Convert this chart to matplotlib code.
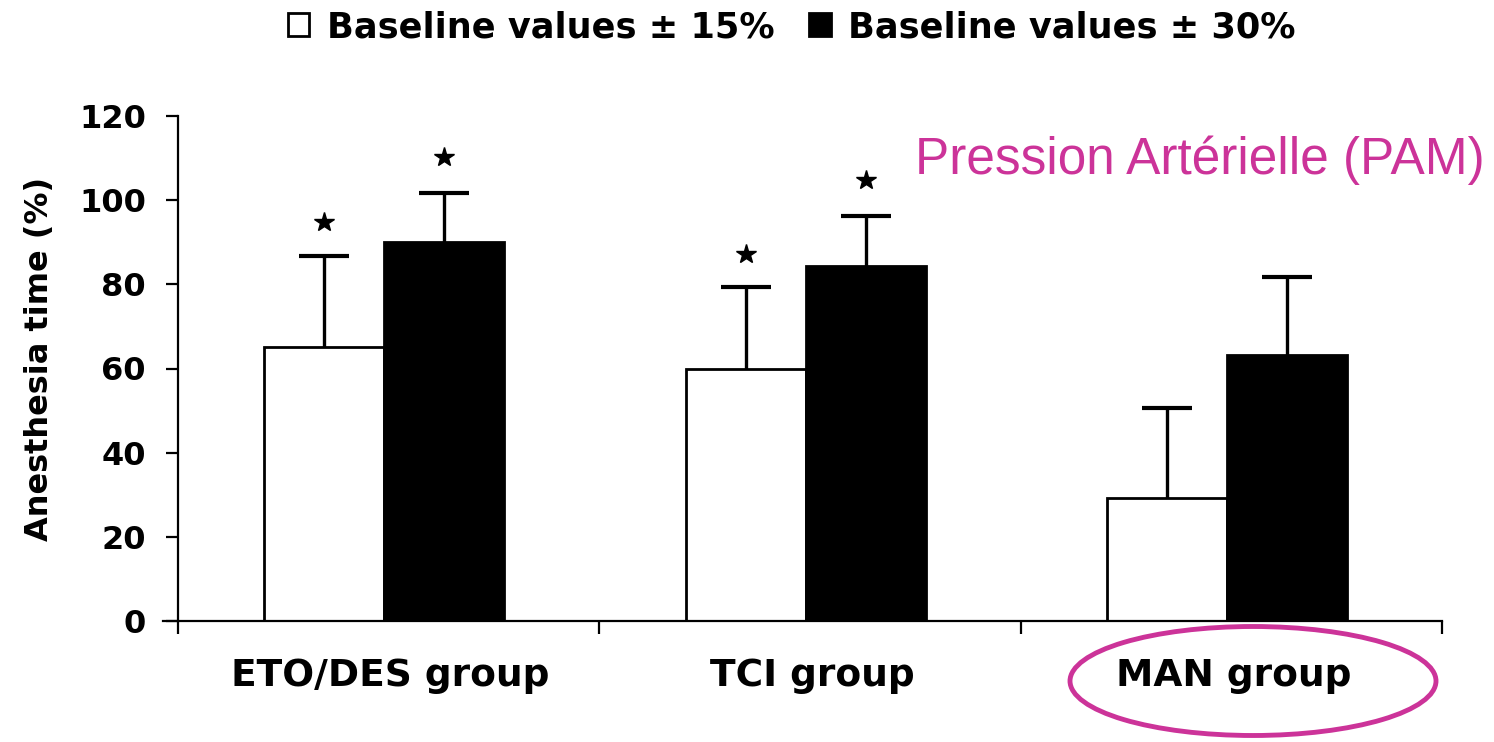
import numpy as np
import matplotlib
matplotlib.use("Agg")
import matplotlib.pyplot as plt
from matplotlib.patches import Ellipse

# data
groups = ["ETO/DES group", "TCI group", "MAN group"]
mean_15 = [65.2, 60.0, 29.3]
sd_15 = [21.5, 19.3, 21.4]
mean_30 = [90.0, 84.3, 63.1]
sd_30 = [11.7, 11.9, 18.6]
star_15 = [True, True, False]
star_30 = [True, True, False]

pink = "#cc3399"
plt.rcParams["font.family"] = "DejaVu Sans"
plt.rcParams["font.weight"] = "bold"

fig = plt.figure(figsize=(14.94, 7.42), dpi=100)
ax = fig.add_axes([163 / 1494, 1 - 621 / 742, 1279 / 1494, 505 / 742])

x = np.arange(len(groups)) + 0.5
w = 0.285
off = -0.01
x15 = x + off - w / 2
x30 = x + off + w / 2

ax.bar(x15, mean_15, w, color="white", edgecolor="black", linewidth=2,
       label="Baseline values \u00b1 15%", zorder=2)
ax.bar(x30, mean_30, w, color="black", edgecolor="black", linewidth=2,
       label="Baseline values \u00b1 30%", zorder=2)

# upper-only error bars
ekw = dict(fmt="none", ecolor="black", elinewidth=2.4, capsize=18, capthick=3, zorder=3)
for xs, m, s in ((x15, mean_15, sd_15), (x30, mean_30, sd_30)):
    eb = ax.errorbar(xs, m, yerr=[np.zeros(3), s], **ekw)
    eb[1][0].set_visible(False)

# significance stars
for xs, m, s, st in zip(x15, mean_15, sd_15, star_15):
    if st:
        ax.plot(xs, m + s + 8, marker="*", color="black", markersize=15, zorder=4)
for xs, m, s, st in zip(x30, mean_30, sd_30, star_30):
    if st:
        ax.plot(xs, m + s + 8.5, marker="*", color="black", markersize=15, zorder=4)

ax.set_xlim(-0.035, 3)
ax.set_ylim(0, 120)
ax.spines["left"].set_position(("data", 0))
ax.spines["top"].set_visible(False)
ax.spines["right"].set_visible(False)
for sp in ("left", "bottom"):
    ax.spines[sp].set_linewidth(1.6)

ax.set_yticks(np.arange(0, 121, 20))
ax.tick_params(axis="y", length=9, width=1.6, pad=14, labelsize=23)
ax.set_xticks([0, 1, 2, 3])
ax.set_xticklabels([])
ax.tick_params(axis="x", length=9, width=1.6)

for xi, g in zip(x, groups):
    ax.text(xi + 0.005, -0.128, g, transform=ax.get_xaxis_transform(),
            ha="center", va="baseline", fontsize=27, fontweight="bold")

fig.text(40 / 1494, 1 - 359 / 742, "Anesthesia time (%)", rotation=90,
         ha="center", va="center", fontsize=23, fontweight="bold")

leg = fig.legend(loc="center", bbox_to_anchor=(0.530, 1 - 27 / 742), ncol=2,
                 frameon=False, fontsize=25.3, handlelength=0.6, handleheight=0.6,
                 handletextpad=0.5, columnspacing=1.0, borderpad=0)
for t in leg.get_texts():
    t.set_fontweight("bold")

fig.text(1485 / 1494, 1 - 174 / 742, "Pression Art\u00e9rielle (PAM)",
         ha="right", va="baseline", fontsize=37, color=pink,
         family="Liberation Sans", fontweight="normal")

fig.add_artist(Ellipse((1253 / 1494, 1 - 681 / 742), 366 / 1494, 109 / 742,
                       transform=fig.transFigure, fill=False, edgecolor=pink, linewidth=3.5))

fig.savefig("out.png", dpi=100)
